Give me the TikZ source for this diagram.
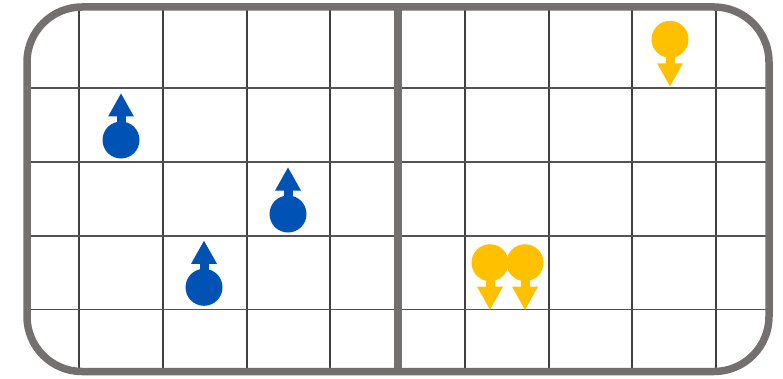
\documentclass[tikz,border=0pt]{standalone}
\usepackage{tikz}
\usetikzlibrary{arrows.meta}

\definecolor{boardgray}{RGB}{117,112,112}
\definecolor{gridgray}{RGB}{64,64,64}
\definecolor{pcblue}{RGB}{0,82,180}
\definecolor{pcyellow}{RGB}{255,192,0}

\begin{document}
\begin{tikzpicture}[x=1pt, y=1pt,
      frame/.style={draw=boardgray, line width=7.5pt},
      vline/.style={draw=gridgray, line width=2pt},
      hline/.style={draw=gridgray!90, line width=1.3pt},
      pc/.style={circle, minimum size=37pt, inner sep=0pt},
      bluepc/.style={pc, fill=pcblue},
      yellowpc/.style={pc, fill=pcyellow},
      pcarrow/.style={line width=9pt, draw=#1,
                      -{Triangle[length=23.5pt, width=24pt]}}]

    \useasboundingbox (0,0) rectangle (783,378);

    % grid lines, under the frame
    \foreach \x in {79,163,246.5,330,465,548.5,632,716}
        \draw[vline] (\x,6.5) -- (\x,371);
    \foreach \y in {68.5,142,216,290}
        \draw[hline] (27,\y) -- (769,\y);

    % board frame and middle divider
    \draw[frame, rounded corners=55pt] (27,6.5) rectangle (769,371);
    \draw[frame] (398,6.5) -- (398,371);

    % blue pieces, pointing up
    \node[bluepc] (b1) at (121,238) {};
    \node[bluepc] (b2) at (288,164) {};
    \node[bluepc] (b3) at (204,90.7) {};
    \foreach \p in {b1,b2,b3}
        \draw[pcarrow=pcblue] (\p.center) -- ++(0,47);

    % yellow pieces, pointing down
    \node[yellowpc] (y1) at (670,338.7) {};
    \node[yellowpc] (y2) at (490,115.3) {};
    \node[yellowpc] (y3) at (525,115.3) {};
    \foreach \p in {y1,y2,y3}
        \draw[pcarrow=pcyellow] (\p.center) -- ++(0,-47.5);

\end{tikzpicture}
\end{document}
